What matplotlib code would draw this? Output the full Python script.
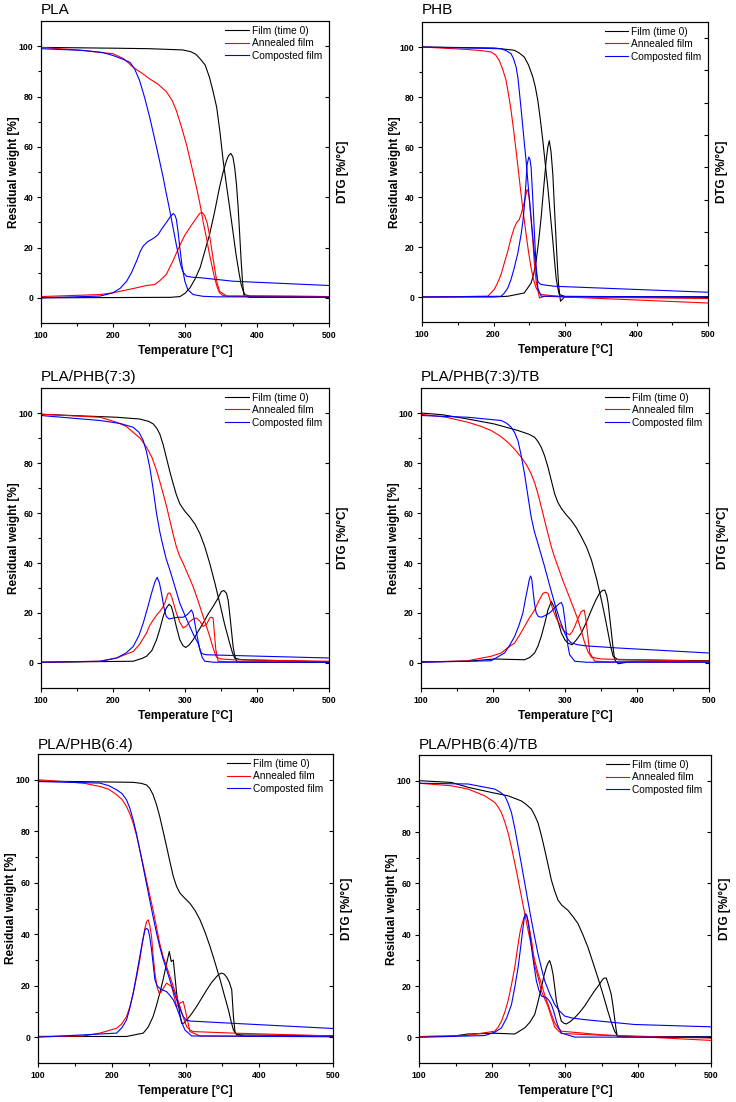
import matplotlib.pyplot as plt
from matplotlib.ticker import FixedLocator, MultipleLocator

plt.rcParams['font.family'] = ['Liberation Sans', 'DejaVu Sans']

# TGA / DTG curves, (temperature [C], value)
# ---- PLA
pla_film_tg = [(100, 99.5), (200, 99.2), (250, 99.0), (297, 98.5), (308, 97.8), (315, 96.8), (321, 95),
               (328, 92.5), (334, 87.6), (339, 82), (344, 75.7), (348.5, 66), (353, 54.5), (357.5, 45),
               (362, 35.9), (366.5, 26.5), (371, 17), (375, 10), (378, 5.3), (380.5, 3), (383, 1.3), (390, 0.7),
               (500, 0.5)]
pla_film_dtg = [(100, 0), (280, 0.2), (293, 0.5), (300, 1.8), (307, 4), (314, 7.5), (321, 12), (327, 18),
                (334, 25), (341, 34), (348, 44), (353, 50), (357.6, 54.5), (360.5, 56.5), (363.6, 57.4),
                (366.5, 56), (369, 51.8), (371.5, 45), (373.8, 36), (376, 25), (378, 14.6), (380, 6), (382, 0.7),
                (390, 0.2), (500, 0.2)]
pla_annealed_tg = [(100, 99.5), (150, 98.5), (200, 97), (215, 95), (228, 91.6), (240, 89.3), (251, 87), (262, 85),
                   (274, 82), (282, 78.5), (288, 74.4), (295, 68), (302, 61), (309, 52.5), (316, 43.8), (321, 37),
                   (325, 30.5), (330, 23.5), (334, 17.3), (338, 12), (341, 8), (345, 4), (348, 2), (352, 1),
                   (358, 0.7), (500, 0.5)]
pla_annealed_dtg = [(100, 0.5), (182, 1.3), (200, 2), (228, 3.7), (246.6, 4.9), (258, 5.3), (265, 6.8),
                    (274, 9.3), (283, 14.5), (293, 21), (300, 25), (306.7, 27.9), (314, 31), (320.6, 33.6),
                    (324, 33.9), (327.5, 32.5), (331, 29.5), (334, 25), (337.5, 18.5), (341, 12), (344.5, 6),
                    (348, 2.6), (358, 0.7), (500, 0.5)]
pla_composted_tg = [(100, 99), (159, 98.3), (185, 97.5), (200, 96.3), (212, 95), (223.5, 93.6), (230, 91),
                    (237, 86.3), (244, 79.5), (251, 71.7), (256, 65.5), (260.5, 59.8), (265, 54), (269.7, 47.8),
                    (274, 41.5), (279, 34.5), (284, 27), (288, 21), (292, 15.5), (295, 12), (298, 10), (302, 8.6),
                    (310, 8.2), (321, 8), (367, 6.6), (500, 4.9)]
pla_composted_dtg = [(100, 0), (182, 0.7), (200, 2), (210, 3.8), (219, 6.6), (226, 10.2), (232.7, 14.6),
                     (238, 18.5), (242, 20.6), (248, 22.3), (253.5, 23.2), (258, 24), (262.8, 25.2), (268, 27.5),
                     (274, 29.9), (279, 32), (283.6, 33.5), (286, 32.8), (288, 31.2), (290.5, 26), (292.8, 19.9),
                     (296, 12.5), (299.8, 6.6), (304, 3.2), (311.3, 1.3), (325, 0.6), (343.7, 0.4), (500, 0.3)]

# ---- PHB
phb_film_tg = [(100, 100), (201, 99.6), (229, 98.7), (236, 97.6), (243, 96), (249, 92.8), (255, 88), (258.5, 84),
               (262, 78.6), (265.5, 71), (269, 62.5), (272.5, 53), (276, 43.8), (279.5, 33), (283, 22.4),
               (285.5, 14), (287.6, 7.6), (290, 3.5), (292, 1), (300, 0.2), (500, 0)]
phb_film_dtg = [(100, 0), (200, 0), (220, 0.3), (243, 1.6), (252.6, 5.6), (256, 9), (259.6, 14.3), (263, 22),
                (266.6, 31.7), (270, 43), (273.6, 54.5), (276, 60), (278, 62.5), (280.5, 58), (283, 49), (285, 37),
                (287.6, 22.4), (289.5, 12), (291, 5), (293.7, -1.7), (299.3, 0), (500, 0)]
phb_annealed_tg = [(100, 100), (164, 99), (185, 98.5), (196.6, 98), (203, 96.8), (208, 94.6), (213, 91),
                   (217.6, 86.6), (221, 81), (224.6, 74.6), (228, 67), (231.6, 58.5), (235, 50), (238.6, 41),
                   (242, 33), (245.6, 25), (249, 18), (252.6, 11.6), (256, 7), (259.6, 3.6), (263, 2), (266.6, 1),
                   (300, 0), (500, -2.4)]
phb_annealed_dtg = [(100, 0), (192, 0.3), (201, 3), (205.5, 5.5), (210.6, 9), (215, 13.5), (220, 18.3),
                    (224.5, 23.5), (229, 27.7), (232.5, 29.8), (236, 31), (238.5, 33), (241, 35.7), (244, 39),
                    (247, 43), (248.8, 42), (250.3, 38.4), (252.5, 31), (255, 22.4), (257, 14), (259.6, 6.3),
                    (264.3, -0.4), (271.3, 0.3), (300, 0), (500, -0.6)]
phb_composted_tg = [(100, 100), (210.6, 99.3), (218, 98.5), (224.6, 97.3), (228, 95.3), (231.6, 92), (234, 88),
                    (236, 82.6), (238.5, 75.5), (241, 68), (243.3, 61), (245.6, 54.5), (249, 43), (252.6, 31.7),
                    (255, 24), (257.3, 17), (259.5, 11), (262, 6.3), (264, 5.5), (266.6, 5), (285, 4.3),
                    (500, 1.9)]
phb_composted_dtg = [(100, 0), (210.6, 0.3), (215, 1.5), (220, 3.6), (224.5, 7), (229, 11.6), (234, 17.5),
                     (238.6, 25), (241, 30), (243, 35.7), (245, 44), (247, 53), (249.4, 56), (251, 55),
                     (252.6, 51.8), (255, 39), (257.3, 25), (259.5, 13), (262, 3.6), (266.6, 0.3), (500, 0)]

# ---- PLA/PHB(7:3)
b73_film_tg = [(100, 99.5), (160, 98.8), (205, 98.3), (237, 97.6), (250, 96.6), (256, 95.6), (261, 93.8),
               (265, 91.6), (269.5, 87.5), (274, 82.3), (279, 76.5), (283.6, 71.7), (288, 67.3), (292.8, 63.7),
               (299, 61), (306.7, 58.4), (314, 55.5), (320.6, 51.8), (327.5, 46.5), (334.4, 39.8), (341.5, 32),
               (348.3, 23.9), (355, 15.5), (362, 8), (366, 4), (369, 2), (375, 1.5), (380.7, 1.3), (500, 0.4)]
b73_film_dtg = [(100, 0.3), (228, 0.7), (240, 1.8), (246.6, 2.7), (254, 5), (260.5, 9.3), (265, 13.5),
                (269.7, 18.6), (274, 22), (278, 23.5), (281, 22.6), (283.6, 20), (288, 14.5), (292.8, 9.3),
                (297, 7), (301, 6.2), (306, 7.3), (311.3, 9.3), (318, 12.5), (325.2, 16), (332, 19.5), (339, 22.6),
                (345, 25.5), (350.6, 28.6), (354, 29), (357.6, 27.9), (360, 25), (362, 20), (364.5, 13),
                (366.8, 6.6), (369, 3), (371.5, 0.7), (380, 0.3), (500, 0.3)]
b73_annealed_tg = [(100, 99.5), (182, 98.3), (205, 96.3), (218, 94.7), (228, 92.3), (238, 89.8), (246.6, 86.3),
                   (254, 82.3), (260.5, 77), (265, 72.6), (269.7, 67.7), (274.5, 62.5), (279, 57), (283.5, 51.5),
                   (288, 46.5), (292.5, 42.8), (297.5, 39.8), (304, 35.5), (311.3, 30.5), (318, 25),
                   (325.2, 18.6), (330, 14.5), (334.4, 10.6), (339, 6), (343.7, 2.3), (350, 1.6), (366.8, 1.3),
                   (500, 0.7)]
b73_annealed_dtg = [(100, 0.3), (182, 0.7), (205, 2), (228, 4.6), (237, 7.5), (246.6, 12), (251, 15),
                    (256, 17.3), (261, 19.3), (265, 20.6), (268.5, 22), (272, 24), (274.5, 26.3), (276.6, 27.9),
                    (279, 28), (281.3, 26.6), (284.5, 23.5), (288, 20), (292.5, 16.5), (297.5, 14), (302, 14.8),
                    (306.7, 16.6), (311, 17.5), (316, 18), (320.5, 16.8), (325.2, 14.6), (330, 15.5),
                    (334.4, 18), (336.5, 18.3), (339, 18), (342.8, 5.3), (346, 0.7), (360, 0.5), (500, 0.5)]
b73_composted_tg = [(100, 99), (182, 97), (210, 95.8), (228, 94.3), (236, 92.3), (242, 89), (246.5, 84.5),
                    (251, 78.4), (255.5, 70), (260.5, 59.8), (265, 52.5), (269.7, 46.5), (274, 41.5),
                    (279, 37.2), (286, 30.5), (292.8, 23.9), (300, 19), (306.7, 14.6), (312, 11.2), (318, 8),
                    (320.5, 5.8), (322.6, 4), (326, 3.5), (329.8, 3.3), (366.8, 3), (500, 2)]
b73_composted_dtg = [(100, 0.3), (182, 0.7), (205, 2), (218, 4), (228, 6.6), (236, 11), (242, 16), (248, 22),
                     (253.5, 27.9), (258, 32.3), (261.4, 34.3), (264.5, 32), (267.4, 27.9), (270.5, 22.5),
                     (274, 18.6), (278, 17.6), (283.6, 18), (290, 18.3), (297.5, 18.3), (303, 19.3), (309, 21.2),
                     (311.5, 19.5), (313.6, 16), (317, 10.5), (320.6, 5.3), (324, 2.2), (327.5, 0.7), (340, 0.3),
                     (500, 0.3)]

# ---- PLA/PHB(7:3)/TB
tb73_film_tg = [(100, 100), (130, 99.3), (165, 97.6), (202, 95.6), (234.6, 93), (250, 91.5), (257.8, 90.3),
                (262.5, 88.6), (267, 86.3), (271.5, 83), (276.3, 78.4), (281, 73), (285.6, 67.7), (290, 64.3),
                (295, 61.8), (302, 59.2), (308.8, 57), (316, 54), (322.7, 50.5), (330, 46.3), (336.7, 41.2),
                (344, 33.5), (350.6, 25.2), (355.5, 18.5), (359.9, 12), (363.5, 6.5), (366.8, 2.7), (373.8, 1.3),
                (500, 0.9)]
tb73_film_dtg = [(100, 0.5), (165, 0.7), (202, 1.6), (243.8, 1.3), (251, 2.2), (257.8, 4), (262.5, 6.8),
                 (267, 10.6), (272, 16), (276.3, 21.2), (281, 24.6), (285.6, 22), (290, 17), (295, 12), (300, 9.2),
                 (304, 8), (309.7, 7.3), (316, 9.3), (322.7, 12), (330, 16.5), (336.7, 21.2), (342.5, 25),
                 (348, 27.9), (352, 29), (355.2, 29.2), (358, 27), (359.9, 23.9), (362, 18.5), (364.5, 12),
                 (367, 5.5), (369, 1.3), (373.8, -0.3), (390, 0.5), (500, 0.5)]
tb73_annealed_tg = [(100, 99.5), (135, 98.3), (165, 96.3), (182, 94.8), (197.4, 93), (210, 90.8), (220.6, 88.3),
                    (230, 85.5), (239.2, 82.3), (246.5, 79.3), (253, 75.7), (258, 72), (262.4, 67.7), (267, 62.5),
                    (271.7, 57), (276.5, 51.5), (281, 46.5), (285.5, 42.3), (290.3, 38.5), (297, 33), (304, 27.9),
                    (311, 22.7), (318, 17.3), (323, 12.5), (327.4, 8), (332, 4.5), (336.7, 2.3), (350.6, 1.6),
                    (500, 0.7)]
tb73_annealed_dtg = [(100, 0.3), (165, 0.9), (197.4, 2.7), (211.4, 4), (220, 6), (230, 8), (237, 11.2),
                     (243.8, 14.6), (250.5, 18), (257.8, 21.2), (263.5, 24.8), (269.4, 27.9), (273, 28.3),
                     (276.3, 27.9), (279.5, 25), (283.3, 21.2), (287, 18.5), (290.3, 16.6), (297.2, 13.3),
                     (302, 12), (306.5, 11.3), (310, 12.5), (313.5, 14.6), (318, 17.8), (322.7, 20.6),
                     (326.5, 21.2), (328.5, 18.5), (330.2, 14.6), (332.4, 9), (334.4, 4), (341.5, 0.7), (360, 0.5),
                     (500, 0.5)]
tb73_composted_tg = [(100, 99), (165, 98.3), (211.4, 97), (219, 95.9), (225.3, 94.3), (230, 92.2), (234.6, 89),
                     (239, 83.2), (243.8, 75.7), (248.5, 66.8), (253, 58.4), (257.5, 52.5), (262.4, 47.8),
                     (267, 43.2), (271.7, 38.5), (278.5, 31.2), (285.6, 23.9), (292.5, 17.5), (299.5, 12),
                     (304, 9.5), (308.8, 8), (318, 7.3), (327.4, 6.9), (373.8, 6), (500, 4)]
tb73_composted_dtg = [(100, 0.3), (197.4, 0.9), (216, 4), (223, 7), (230, 10.6), (236, 15), (241.5, 20),
                      (245, 25.5), (248.5, 30.5), (250.5, 33.5), (252.2, 34.8), (253.8, 33.5), (255.5, 29.2),
                      (257.5, 24), (260, 20), (263, 18.6), (267, 18.3), (272.5, 19), (278.6, 20), (285.5, 22),
                      (292.6, 23.9), (295, 24.2), (297.2, 22.6), (299.5, 18), (301.9, 12), (304, 7), (306.5, 3.3),
                      (313.5, 0.7), (330, 0.3), (500, 0.3)]

# ---- PLA/PHB(6:4)
b64_film_tg = [(100, 99.5), (229, 99), (240, 98.6), (247, 98), (251.5, 96.7), (256, 94.2), (260.5, 90.5),
               (265, 85.8), (269.5, 80.2), (274.4, 74), (279, 68), (283.5, 62.4), (288, 58.5), (292.5, 56),
               (299, 54), (306, 52), (313, 49.2), (319.7, 45.6), (326.5, 40.8), (333.3, 35.2), (340, 29),
               (347, 22.3), (352.5, 16.5), (358.2, 10.6), (362, 6), (365, 2.8), (369.5, 0.9), (500, 0.6)]
b64_film_dtg = [(100, 0.3), (220, 0.3), (242.7, 1.6), (249.5, 4), (256, 8), (260.5, 12.2), (265, 17),
                (269.5, 22.2), (273.5, 27.5), (278, 33.3), (280.7, 29.4), (283.5, 30), (288, 17), (291.5, 10.5),
                (294.8, 5.4), (298, 5.5), (301.6, 6.7), (308, 9), (315, 11.9), (322, 15.2), (328.8, 18.4),
                (335.5, 21.3), (342.3, 23.6), (345.5, 24.5), (349, 24.9), (352.5, 24.5), (356, 23.3),
                (359.5, 21.3), (362.7, 18.4), (365, 8), (367.3, 1.6), (380, 0.3), (500, 0.3)]
b64_annealed_tg = [(100, 100), (161, 98.7), (183.8, 97.4), (196, 96.3), (206.5, 94.2), (214, 92.3), (220, 89.6),
                   (224.5, 86.8), (229, 83.2), (233.5, 78.5), (238, 72.8), (242.5, 67), (247, 61.1),
                   (251.5, 55.2), (256, 49.5), (260.5, 43), (265, 36.5), (269.5, 31.5), (274.4, 27.5),
                   (279, 23.5), (283.5, 19.7), (288, 15.8), (292.5, 11.9), (297, 7.8), (301.6, 4.1), (306, 2.8),
                   (310.6, 2.2), (365, 1.6), (500, 0.5)]
b64_annealed_dtg = [(100, 0.3), (161, 0.5), (183.8, 1.6), (206.5, 3.5), (213, 5), (220, 8), (224.5, 11.8),
                    (229, 17), (233.5, 23.2), (238, 30), (241.5, 36.5), (245, 42.4), (247.5, 45), (249.5, 45.6),
                    (251.5, 43.5), (254, 39), (256, 32), (258.5, 24.9), (261.5, 19.5), (264.4, 17), (267, 17.5),
                    (269.9, 19), (274.4, 21), (281.2, 19.7), (288, 11.9), (292.5, 13.2), (297, 13.9),
                    (300.7, 9.3), (306, 2.2), (319.7, 0.5), (500, 0.3)]
b64_composted_tg = [(100, 99.3), (183.8, 98.7), (196, 97.7), (206.5, 96.1), (214, 94.6), (220, 92.2),
                    (224.5, 89), (229, 84.5), (233.5, 79.1), (238, 72.8), (242.5, 66.3), (247, 59.8),
                    (251.5, 53.3), (256, 46.9), (260.5, 40.8), (265, 35.2), (269.5, 30.5), (274.4, 26.2),
                    (281, 20.2), (288, 14.5), (292.5, 11), (297, 8), (301, 6.8), (306, 6.3), (365, 5.4),
                    (500, 3.4)]
b64_composted_dtg = [(100, 0), (206.5, 1.6), (214, 3.8), (220, 6.7), (224.5, 11.3), (229, 17), (233.5, 24),
                     (238, 31.3), (241.5, 37), (245, 41.7), (247, 42.3), (249.5, 41.7), (251.5, 39), (254, 33.9),
                     (256.5, 27.5), (258.5, 22.3), (261.5, 20), (265, 19), (269.5, 18.3), (274.4, 17.7),
                     (279, 16.2), (283.5, 14.5), (288, 11.5), (292.5, 8), (296, 5), (299.3, 2.8), (308.4, 0.5),
                     (500, 0.2)]

# ---- PLA/PHB(6:4)/TB
tb64_film_tg = [(100, 100), (144.6, 99.3), (167.4, 97.4), (199.3, 95.4), (222, 94.1), (240.3, 92.1), (247, 90.7),
                (254, 88.9), (258.5, 86.5), (263, 83.6), (267.7, 78.6), (272.2, 73.1), (276.8, 67.2),
                (281.3, 61.3), (285.9, 57), (290.4, 53.5), (295.5, 51.5), (304, 49.5), (311, 47), (317.8, 44.3),
                (324.5, 40), (331.4, 35.1), (338, 29.4), (345, 23.3), (352, 16.8), (358.7, 10.2), (363.3, 6),
                (367.9, 2.4), (372.4, 0.4), (500, 0.1)]
tb64_film_dtg = [(100, 0.3), (144.6, 0.4), (167.4, 1.3), (203.9, 1.6), (231.2, 1.3), (244.9, 3.7), (251.7, 5.8),
                 (258.5, 8.9), (263, 13.8), (267.7, 19.4), (271, 23.8), (274.5, 27.3), (276.8, 29), (279, 29.9),
                 (281.3, 27.8), (283.6, 24.6), (286, 19.4), (288.2, 14.2), (291.5, 10), (295, 6.3), (298.5, 5.5),
                 (301.8, 5.2), (307.5, 6.2), (313.2, 7.6), (320, 9.7), (326.9, 12.2), (333.7, 15.2),
                 (340.5, 18.1), (347, 20.6), (351.9, 22.7), (354, 23.1), (356.5, 23.1), (359.5, 20.5),
                 (363.3, 16.8), (365.6, 12.5), (367.9, 7.6), (369.8, 3.5), (371.5, 0.4), (380, 0.2), (500, 0.2)]
tb64_annealed_tg = [(100, 99), (144.6, 98), (167.4, 96.7), (190.2, 94.1), (203.9, 91.5), (208.5, 89.7),
                    (213, 87.5), (217.5, 84), (222, 79.7), (226.7, 74), (231.2, 67.9), (235.8, 61.4),
                    (240.3, 54.8), (244.9, 48.2), (249.4, 41.7), (254, 35.6), (258.5, 29.9), (263, 25),
                    (267.7, 20.7), (272.2, 16.5), (276.8, 12.8), (281.3, 9), (285.9, 5.6), (290.4, 3.8),
                    (295, 2.4), (349.7, 1), (500, -1.2)]
tb64_annealed_dtg = [(100, 0.3), (167.4, 0.8), (203.9, 2.4), (208.5, 4), (213, 6.3), (217.5, 9.8), (222, 14.2),
                     (226.7, 20.5), (231.2, 27.3), (234.6, 34), (238, 40.4), (241, 44), (244, 46.9),
                     (247.2, 47.6), (249.4, 45.5), (251.7, 41.7), (254.9, 36.5), (258.5, 28), (263, 23.5),
                     (267.7, 18), (272.2, 15), (276.8, 12), (281.3, 8), (285.9, 4), (290.4, 2.7), (295, 1.5),
                     (349.7, 0.8), (500, -0.3)]
tb64_composted_tg = [(100, 99), (167.4, 98.7), (203.9, 96.7), (210.7, 95.6), (217.5, 94.1), (222, 91.3),
                     (226.7, 87.5), (231.2, 81.5), (235.8, 74.4), (240.3, 67.4), (244.9, 60), (249.4, 52.8),
                     (254, 45.6), (258.5, 38.9), (263, 32.5), (267.7, 26.9), (272.2, 22), (279, 17),
                     (285.9, 12.8), (292.7, 10.2), (299.5, 8.3), (310, 7.5), (326.9, 6.9), (395.2, 5), (500, 4.1)]
tb64_composted_dtg = [(100, 0), (190.2, 0.7), (203.9, 2), (213, 3.7), (220, 7.5), (226.7, 12.8), (231.2, 19.5),
                      (235.8, 27.3), (239.2, 35), (242.6, 43), (244.2, 46.5), (245.8, 48.2), (247.6, 47.6),
                      (249.4, 45), (251.7, 40.5), (254, 35.1), (257.4, 28.3), (260.8, 22), (264.3, 18.3),
                      (267.7, 16.1), (271.1, 15.8), (274.5, 15.5), (277.9, 14.4), (281.3, 12.8), (284.7, 10),
                      (288.2, 6.3), (291.6, 3.6), (295, 1.7), (313.2, 0.1), (500, 0)]

titles = ["PLA", "PHB", "PLA/PHB(7:3)", "PLA/PHB(7:3)/TB", "PLA/PHB(6:4)", "PLA/PHB(6:4)/TB"]
series_labels = ["Film (time 0)", "Annealed film", "Composted film"]
series_colors = ["black", "red", "blue"]

panel_curves = [
    [(pla_film_tg, pla_film_dtg), (pla_annealed_tg, pla_annealed_dtg), (pla_composted_tg, pla_composted_dtg)],
    [(phb_film_tg, phb_film_dtg), (phb_annealed_tg, phb_annealed_dtg), (phb_composted_tg, phb_composted_dtg)],
    [(b73_film_tg, b73_film_dtg), (b73_annealed_tg, b73_annealed_dtg), (b73_composted_tg, b73_composted_dtg)],
    [(tb73_film_tg, tb73_film_dtg), (tb73_annealed_tg, tb73_annealed_dtg),
     (tb73_composted_tg, tb73_composted_dtg)],
    [(b64_film_tg, b64_film_dtg), (b64_annealed_tg, b64_annealed_dtg), (b64_composted_tg, b64_composted_dtg)],
    [(tb64_film_tg, tb64_film_dtg), (tb64_annealed_tg, tb64_annealed_dtg),
     (tb64_composted_tg, tb64_composted_dtg)],
]

# panel boxes in pixels (left, top, right, bottom) of a 736x1102 figure
W, H = 736, 1102
boxes = [(41, 21, 329, 323), (422, 22, 708, 322),
         (41, 388, 329, 688), (421, 388, 709, 688),
         (38, 754, 333, 1063), (419, 755, 711, 1063)]
title_bottoms = [16.5, 16.5, 384.5, 384.5, 752.5, 752.5]
right_tick_step = [20, 12.96, 20, 20, 20, 20]

fig = plt.figure(figsize=(W / 100, H / 100), dpi=100)

for i, (l, t, r, b) in enumerate(boxes):
    ax = fig.add_axes([l / W, 1 - b / H, (r - l) / W, (b - t) / H])
    for (tg, dtg), color, label in zip(panel_curves[i], series_colors, series_labels):
        ax.plot([p[0] for p in tg], [p[1] for p in tg], color=color, lw=0.8, label=label)
        ax.plot([p[0] for p in dtg], [p[1] for p in dtg], color=color, lw=0.8)

    ax.set_xlim(100, 500)
    ax.set_ylim(-10, 110)
    ax.set_xticks([100, 200, 300, 400, 500])
    ax.set_yticks([0, 20, 40, 60, 80, 100])
    ax.xaxis.set_minor_locator(FixedLocator([150, 250, 350, 450]))
    ax.yaxis.set_minor_locator(FixedLocator([10, 30, 50, 70, 90]))
    ax.tick_params(which='major', direction='out', length=3, width=0.8, labelsize=6.3, pad=2.5)
    ax.tick_params(which='minor', direction='out', length=2, width=0.8)
    for lbl in ax.get_xticklabels() + ax.get_yticklabels():
        lbl.set_fontweight('bold')
    for sp in ax.spines.values():
        sp.set_linewidth(0.8)

    ax.set_xlabel("Temperature [°C]", fontsize=8.5, fontweight='bold', labelpad=4)
    ax.set_ylabel("Residual weight [%]", fontsize=8.5, fontweight='bold')
    ax.yaxis.set_label_coords(-21 / (r - l), 0.5)

    tw = ax.twinx()
    tw.set_ylim(-10, 110)
    tw.yaxis.set_major_locator(MultipleLocator(right_tick_step[i]))
    tw.set_yticks([v for v in tw.get_yticks() if 0 <= v <= 105])
    tw.tick_params(direction='in', length=3, width=0.8, labelright=False)
    tw.set_ylim(-10, 110)
    tw.set_ylabel("DTG [%/°C]", fontsize=8.5, fontweight='bold', labelpad=6)

    ax.legend(loc='upper left', bbox_to_anchor=(0.64, 0.985), frameon=False, fontsize=7.3,
              borderpad=0, borderaxespad=0, handlelength=2.3, handletextpad=0.3, labelspacing=0.25)

    fig.text(l / W, 1 - title_bottoms[i] / H, titles[i], fontsize=11, ha='left', va='bottom')

fig.savefig("out.png", dpi=100)
